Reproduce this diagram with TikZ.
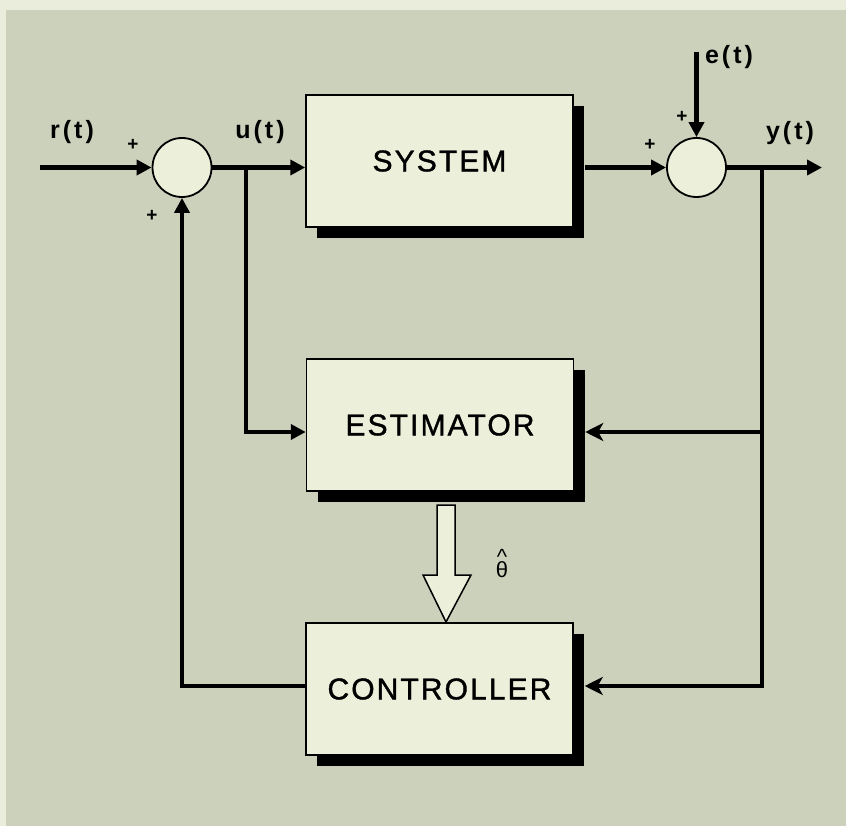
\documentclass[tikz,border=0pt]{standalone}
\usepackage{fontspec}
\setmainfont{Liberation Sans}
\newfontfamily\boxfont[LetterSpace=7,FakeBold=1.2]{Liberation Sans}
\newfontfamily\lblfont[LetterSpace=12]{Liberation Sans}
\usetikzlibrary{arrows.meta,shadows}
\definecolor{bg}{RGB}{203,209,187}
\definecolor{boxfill}{RGB}{236,240,218}
\definecolor{edgecol}{RGB}{234,237,220}
\tikzset{
  blk/.style={draw=black, line width=1.5pt, fill=boxfill, minimum width=267pt, minimum height=132pt, inner sep=0pt,
    font=\boxfont\fontsize{30}{32}\selectfont,
    drop shadow={shadow xshift=11pt, shadow yshift=-11pt, fill=black, opacity=1}},
  sumnode/.style={circle, draw=black, line width=1.8pt, fill=boxfill, minimum size=59pt, inner sep=0pt},
  conn/.style={line width=4.5pt, -{Triangle[length=15pt,width=15pt]}},
  connS/.style={line width=4.5pt, -{Stealth[length=18pt,width=18pt,inset=5pt]}},
  lbl/.style={font=\lblfont\bfseries\fontsize{25}{27}\selectfont, inner sep=0pt},
  plus/.style={font=\bfseries\fontsize{19}{20}\selectfont, inner sep=0pt},
}
\begin{document}
\begin{tikzpicture}[x=1pt,y=-1pt]
\fill[edgecol] (0,0) rectangle (846,826);
\fill[bg] (6,10) rectangle (846,826);
\useasboundingbox (0,0) rectangle (846,826);

\node[sumnode] (s1) at (182,167.5) {};
\node[sumnode] (s2) at (696.5,167.5) {};
\node[blk] (sys) at (439.5,161) {SYSTEM};
\node[blk] (est) at (440,425) {ESTIMATOR};
\node[blk] (ctl) at (439.5,689) {CONTROLLER};

\coordinate (rin) at (40,167.5);
\coordinate (ein) at (696.5,52);
\coordinate (yout) at (822,167.5);
\coordinate (bu) at (246,167.5);
\coordinate (by) at (762,167.5);
\coordinate (sysout) at ([xshift=11pt]sys.east);
\coordinate (estL) at ([yshift=-7pt]est.west);
\coordinate (estR) at ([xshift=11pt,yshift=-7pt]est.east);
\coordinate (ctlR) at ([xshift=11pt,yshift=3pt]ctl.east);
\coordinate (ctlL) at ([yshift=3pt]ctl.west);

\draw[conn] (rin) -- (s1.west);
\draw[conn] (s1.east) -- (sys.west |- s1);
\draw[conn] (sysout |- s2) -- (s2.west);
\draw[conn] (ein) -- (s2.north);
\draw[conn] (s2.east) -- (yout);
\draw[conn] (bu) |- (estL);
\draw[connS] (by) |- (ctlR);
\draw[connS] (by |- estR) -- (estR);
\draw[conn] (ctlL) -| (s1.south);

\draw[line width=1.5pt, fill=boxfill, line join=miter]
  (437,505) -- (455,505) -- (455,575) -- (471,575) -- (446,622) -- (423,575) -- (437,575) -- cycle;

\node[lbl] (rl) at (72,132) {r(t)};
\node[lbl] (ul) at (260,132) {u(t)};
\node[lbl] (el) at (729,57) {e(t)};
\node[lbl] (yl) at (790,133) {y(t)};
\node[plus] (p1) at (133,145) {+};
\node[plus] (p2) at (152,216) {+};
\node[plus] (p3) at (682,117) {+};
\node[plus] (p4) at (650,145) {+};
\node[font=\fontsize{22}{24}\selectfont, inner sep=0pt, align=center] (th) at (502,564)
  {\textasciicircum\\[-11pt]θ};
\end{tikzpicture}
\end{document}
